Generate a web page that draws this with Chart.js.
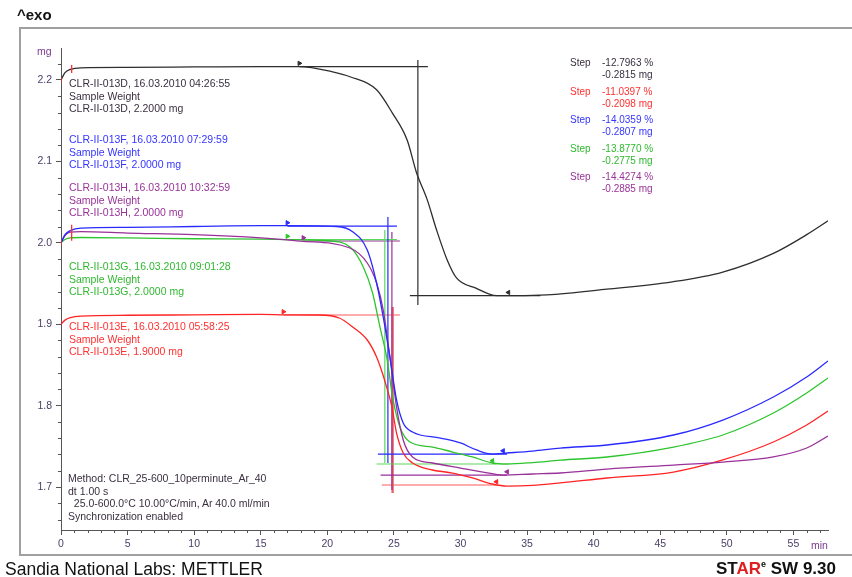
<!DOCTYPE html>
<html><head><meta charset="utf-8">
<script src="https://cdn.jsdelivr.net/npm/chart.js@4/dist/chart.umd.min.js"></script>
<style>
html,body{margin:0;padding:0;background:#fff;overflow:hidden;}
#wrap{position:relative;width:852px;height:577px;overflow:hidden;font-family:"Liberation Sans",Arial,sans-serif;}
#frame{position:absolute;left:19px;top:27px;width:840px;height:529px;border:2px solid #a0a0a0;border-right:none;box-sizing:border-box;}
canvas{position:absolute;left:0;top:0;}
.t{position:absolute;white-space:pre;font-size:10.5px;line-height:12.5px;}
.s{position:absolute;white-space:pre;font-size:10px;line-height:11.7px;}
.k{color:#3a3040}.r{color:#ff3030}.b{color:#3535ff}.g{color:#30b830}.p{color:#993399}
</style></head>
<body><div id="wrap">
<div id="frame"></div>
<canvas id="c" width="852" height="577"></canvas>
<div style="position:absolute;left:17px;top:6px;font-size:15px;font-weight:bold;color:#111;">^exo</div>
<div style="position:absolute;left:37px;top:45px;font-size:10.5px;color:#7a3a8a;">mg</div>
<div style="position:absolute;left:811px;top:539px;font-size:10.5px;color:#7a3a8a;">min</div>
<div class="t k" style="left:69px;top:77px;">CLR-II-013D, 16.03.2010 04:26:55
Sample Weight
CLR-II-013D, 2.2000 mg</div>
<div class="t b" style="left:69px;top:133px;">CLR-II-013F, 16.03.2010 07:29:59
Sample Weight
CLR-II-013F, 2.0000 mg</div>
<div class="t p" style="left:69px;top:181px;">CLR-II-013H, 16.03.2010 10:32:59
Sample Weight
CLR-II-013H, 2.0000 mg</div>
<div class="t g" style="left:69px;top:260px;">CLR-II-013G, 16.03.2010 09:01:28
Sample Weight
CLR-II-013G, 2.0000 mg</div>
<div class="t r" style="left:69px;top:320px;">CLR-II-013E, 16.03.2010 05:58:25
Sample Weight
CLR-II-013E, 1.9000 mg</div>
<div class="t k" style="left:68px;top:472px;">Method: CLR_25-600_10perminute_Ar_40
dt 1.00 s
  25.0-600.0°C 10.00°C/min, Ar 40.0 ml/min
Synchronization enabled</div>
<div class="s k" style="left:570px;top:57px;">Step</div><div class="s k" style="left:602px;top:57px;">-12.7963 %
-0.2815 mg</div>
<div class="s r" style="left:570px;top:86px;">Step</div><div class="s r" style="left:602px;top:86px;">-11.0397 %
-0.2098 mg</div>
<div class="s b" style="left:570px;top:114px;">Step</div><div class="s b" style="left:602px;top:114px;">-14.0359 %
-0.2807 mg</div>
<div class="s g" style="left:570px;top:143px;">Step</div><div class="s g" style="left:602px;top:143px;">-13.8770 %
-0.2775 mg</div>
<div class="s p" style="left:570px;top:171px;">Step</div><div class="s p" style="left:602px;top:171px;">-14.4274 %
-0.2885 mg</div>
<div style="position:absolute;left:5px;top:559px;font-size:17.5px;color:#111;white-space:pre;">Sandia National Labs: METTLER</div>
<div style="position:absolute;left:716px;top:559px;font-size:17px;font-weight:bold;color:#111;white-space:pre;">ST<span style="color:#e02020">AR</span><sup style="font-size:9px;">e</sup> SW 9.30</div>
</div>
<script>
// ---- data (time in min, mass in mg) ----
const timeD = [0,0.3,0.7,1.5,5,10,15,17.9,20.4,21.7,23.7,24.9,26.0,26.7,27.5,28.2,29.0,29.7,31.2,32.7,34.2,36.5,41.0,45.9,49.7,53.5,56.0,57.6];
const massD = [2.200,2.209,2.213,2.215,2.2155,2.216,2.2165,2.2165,2.210,2.204,2.188,2.159,2.126,2.086,2.053,2.016,1.979,1.957,1.944,1.935,1.935,1.936,1.943,1.952,1.964,1.987,2.010,2.027];

const timeF = [0,0.3,0.7,1.5,5,10,15,17,20.7,21.9,23.0,23.7,24.2,24.7,25.2,25.7,26.4,28.5,30.0,31.2,32.4,33.5,35.4,37.5,41.0,46.0,49.7,53.5,56.0,57.6];
const massF = [2.000,2.010,2.015,2.018,2.019,2.020,2.021,2.021,2.020,2.0136,1.9912,1.9506,1.9088,1.8597,1.8069,1.7786,1.7676,1.7602,1.7541,1.7455,1.7405,1.7418,1.7442,1.7479,1.7516,1.7639,1.7823,1.8106,1.8351,1.8548];

const timeG = [0,0.3,0.7,1.5,5,10,15,17,20,21.7,22.7,23.4,23.95,24.5,24.9,25.45,26.2,27.9,29.4,30.9,32.4,33.5,35.4,37.5,41.0,46.0,49.7,53.5,56.0,57.6];
const massG = [2.000,2.004,2.006,2.0065,2.006,2.005,2.0045,2.004,2.0025,1.9948,1.9703,1.9383,1.8966,1.8560,1.8106,1.7737,1.7553,1.7491,1.7430,1.7369,1.7295,1.7283,1.7300,1.7330,1.7369,1.7491,1.7639,1.7909,1.8155,1.8339];

const timeH = [0,0.3,0.7,1.5,5,10,15,18,21.7,23.0,23.7,24.2,24.7,25.2,25.7,26.4,27.9,30.0,31.7,33.2,35.4,37.5,41.0,46.0,49.7,53.5,56.0,57.6];
const massH = [2.000,2.009,2.013,2.0137,2.012,2.010,2.006,2.002,1.9936,1.9752,1.9506,1.9174,1.8597,1.7983,1.7577,1.7369,1.7295,1.7233,1.7184,1.7147,1.7160,1.7172,1.7221,1.7270,1.7307,1.7369,1.7479,1.7627];

const timeE = [0,0.3,0.7,1.5,5,10,15,17,19.4,20.9,21.9,23.0,23.7,24.3,24.85,25.2,25.7,26.4,27.9,29.4,30.9,32.4,33.5,35.4,37.5,41.0,46.0,49.7,53.5,56.0,57.6];
const massE = [1.900,1.905,1.908,1.910,1.911,1.9115,1.912,1.9115,1.9113,1.9076,1.8966,1.8806,1.8597,1.8314,1.7983,1.7663,1.7418,1.7295,1.7209,1.7172,1.7111,1.7037,1.7012,1.7020,1.7050,1.7111,1.7184,1.7332,1.7553,1.7762,1.7934];

// step evaluation: [upperStart, upperEnd, upperMass, lowerStart, lowerEnd, lowerMass, midTime, midTop, midBottom]
const stepD = [17.9,27.55,2.2165, 26.2,36.0,1.935, 26.8,2.2246,1.9236];
const stepE = [16.7,25.45,1.9113, 24.1,32.7,1.7025, 24.9,1.9211,1.6926];
const stepF = [17.0,25.23,2.0206, 23.8,33.5,1.7405, 24.55,2.0317,1.7295];
const stepG = [17.0,25.23,2.004, 23.7,32.7,1.7283, 24.32,2.0157,1.7295];
const stepH = [18.2,25.45,2.0022, 24.0,33.5,1.7147, 24.85,2.0133,1.6963];
// limit flags (left, right) in min
const flagD = [17.9,33.6];
const flagE = [16.7,32.7];
const flagF = [17.0,33.2];
const flagG = [17.0,32.4];
const flagH = [18.2,33.5];
// sample-weight start marks [time, mass]
const startMarkTimes = [0, 0.8, 0, 0.8];
const startMarkMass  = [2.200, 2.2135, 2.000, 2.0125];

const xTicks = [0,5,10,15,20,25,30,35,40,45,50,55];
const yTicks = [1.7,1.8,1.9,2.0,2.1,2.2];

// ---- styles ----
const colD='#2e2e2e', colE='#ff2424', colF='#2a2aff', colG='#2ec42e', colH='#9a309a';

const pts = (t,m)=>t.map((v,i)=>({x:v,y:m[i]}));
function curve(t,m,c){return {type:'line',data:pts(t,m),borderColor:c,borderWidth:1.3,pointRadius:0,cubicInterpolationMode:'monotone',order:1};}
function steps(s,c,w){
  return {type:'line',data:[{x:s[0],y:s[2]},{x:s[1],y:s[2]},{x:NaN,y:null},
    {x:s[3],y:s[5]},{x:s[4],y:s[5]},{x:NaN,y:null},
    {x:s[6],y:s[7]},{x:s[6],y:s[8]}],
    borderColor:c,borderWidth:w||1.2,pointRadius:0,tension:0,spanGaps:false,order:2};
}
function flags(f,s,c){
  return {type:'scatter',data:[{x:f[0],y:s[2]+0.004},{x:f[1],y:s[5]+0.004}],
    pointStyle:'triangle',rotation:[90,-90],pointRadius:2.5,backgroundColor:c,borderColor:c,borderWidth:1,order:0};
}

const minorTicks = {
  id:'minorTicks',
  afterDraw(chart){
    const {ctx, scales:{x,y}, chartArea:a} = chart;
    ctx.save(); ctx.strokeStyle='#555'; ctx.lineWidth=1; ctx.beginPath();
    for(let t=0;t<=57;t++){ if(t%5===0) continue; const px=Math.round(x.getPixelForValue(t))+0.5; ctx.moveTo(px,a.bottom); ctx.lineTo(px,a.bottom+3);}
    for(let k=0;k<=29;k++){ const v=1.66+k*0.02; if(v>y.max) break; if(Math.abs(v*10-Math.round(v*10))<1e-6) continue; const py=Math.round(y.getPixelForValue(v))+0.5; ctx.moveTo(a.left-3,py); ctx.lineTo(a.left,py);}
    ctx.stroke(); ctx.restore();
  }
};

new Chart(document.getElementById('c'),{
  data:{datasets:[
    curve(timeD,massD,colD), curve(timeF,massF,colF), curve(timeH,massH,colH), curve(timeG,massG,colG), curve(timeE,massE,colE),
    steps(stepD,colD,1.2), steps(stepF,colF,1.2), steps(stepG,'#5ad85a',1.2), steps(stepH,colH,1.2), steps(stepE,'#ff5a5a',1.2),
    {type:'line',data:[{x:stepE[6],y:stepE[7]},{x:stepE[6],y:stepE[8]}],borderColor:'#c01010',borderWidth:1.8,pointRadius:0,order:2},
    flags(flagD,stepD,colD), flags(flagE,stepE,colE), flags(flagF,stepF,colF), flags(flagG,stepG,colG), flags(flagH,stepH,colH),
    {type:'scatter',data:pts(startMarkTimes,startMarkMass),pointStyle:'line',rotation:90,pointRadius:[3,4,3,8],borderColor:'#ff3030',borderWidth:1.3,order:0}
  ]},
  options:{
    responsive:false, animation:false,
    layout:{padding:{left:0,top:48,right:24,bottom:0}},
    plugins:{legend:{display:false},tooltip:{enabled:false}},
    scales:{
      x:{type:'linear',min:0,max:57.6,
        afterFit:(s)=>{s.height=47;},
        afterBuildTicks:(s)=>{s.ticks=xTicks.map(v=>({value:v}));},
        grid:{display:true,drawOnChartArea:false,drawTicks:true,tickLength:5,tickColor:'#555'},
        border:{display:true,color:'#555',width:1},
        ticks:{padding:3,font:{family:'Liberation Sans',size:10.5},color:'#4a3d66',maxRotation:0,autoSkip:false,callback:(v)=>String(v)}},
      y:{type:'linear',min:1.6472,max:2.2393,
        afterFit:(s)=>{s.width=61;},
        afterBuildTicks:(s)=>{s.ticks=yTicks.map(v=>({value:v}));},
        grid:{display:true,drawOnChartArea:false,drawTicks:true,tickLength:5,tickColor:'#555'},
        border:{display:true,color:'#555',width:1},
        ticks:{padding:4,font:{family:'Liberation Sans',size:10.5},color:'#4a3d66',autoSkip:false,callback:(v)=>v.toFixed(1)}}
    }
  },
  plugins:[minorTicks]
});
</script>
</body></html>
